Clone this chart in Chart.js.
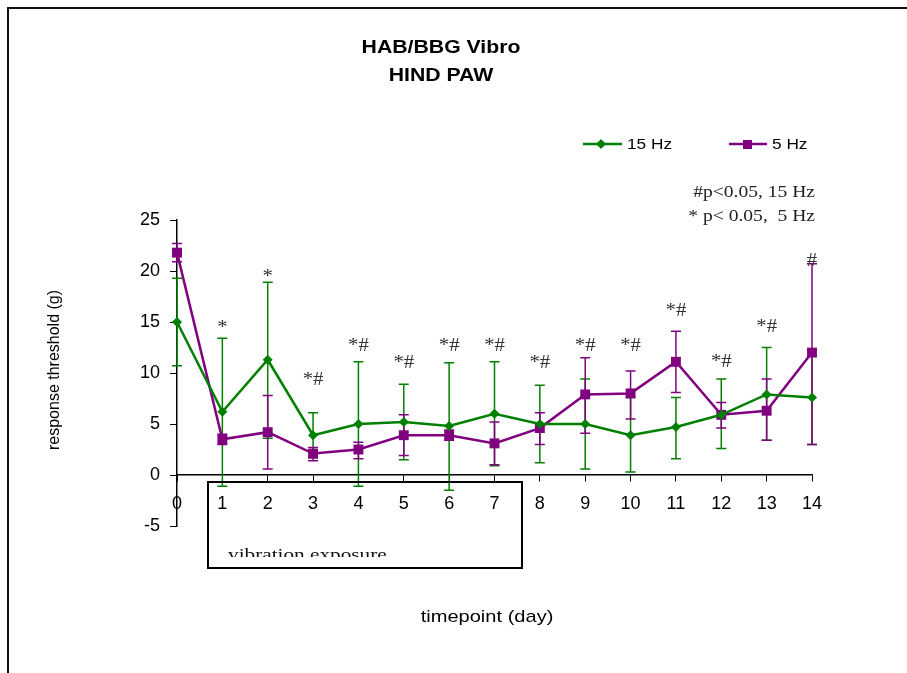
<!doctype html>
<html>
<head>
<script src="https://cdn.jsdelivr.net/npm/chart.js@4/dist/chart.umd.min.js"></script>
<style>
	body { margin: 0; background: #fff; }
	canvas { display: block; }
</style>
</head>
<body>
<canvas id="chart-area" width="907" height="673"></canvas>
<script>
	// timepoints (days)
	var days = ['0','1','2','3','4','5','6','7','8','9','10','11','12','13','14'];

	// 15 Hz group: mean, upper and lower end of error bar
	var hz15   = [15.0, 6.2, 11.3, 3.9, 5.0, 5.2, 4.8, 6.0, 5.0, 5.0, 3.9, 4.7, 5.9, 7.9, 7.6];
	var hz15Hi = [19.3, 13.4, 18.9, 6.1, 11.1, 8.9, 11.0, 11.1, 8.8, 9.4, 7.6, 7.6, 9.4, 12.5, 12.2];
	var hz15Lo = [10.7, -1.1, 3.6, 1.7, -1.1, 1.5, -1.5, 0.9, 1.2, 0.6, 0.3, 1.6, 2.6, 3.4, 3.0];

	// 5 Hz group
	var hz5   = [21.8, 3.5, 4.2, 2.1, 2.5, 3.9, 3.9, 3.1, 4.6, 7.9, 8.0, 11.1, 5.9, 6.3, 12.0];
	var hz5Hi = [22.7, 4.0, 7.8, 2.7, 3.2, 5.9, 4.4, 5.2, 6.1, 11.5, 10.2, 14.1, 7.1, 9.4, 20.7];
	var hz5Lo = [20.9, 3.0, 0.6, 1.4, 1.6, 1.9, 3.4, 1.0, 3.0, 4.1, 5.5, 8.1, 4.6, 3.4, 3.0];

	// significance marks and the level they are written at
	var sigText = ['', '*', '*', '*#', '*#', '*#', '*#', '*#', '*#', '*#', '*#', '*#', '*#', '*#', '#'];
	var sigY    = [null, 14.4, 19.4, 9.3, 12.6, 10.95, 12.6, 12.6, 10.95, 12.6, 12.6, 16.1, 11.05, 14.5, 21.0];

	var yTicks = [-5, 0, 5, 10, 15, 20, 25];

	var GREEN = '#008000';
	var PURPLE = '#800080';
	var SANS = '"Liberation Sans", Arial, sans-serif';
	var SERIF = '"Liberation Serif", "Times New Roman", serif';

	// the picture is a little stretched sideways, so text is widened
	function wideText(ctx, txt, x, y, font, align, color, sx) {
		ctx.save();
		ctx.font = font;
		ctx.fillStyle = color || '#000';
		ctx.textAlign = align || 'center';
		ctx.textBaseline = 'middle';
		ctx.translate(x, y);
		ctx.scale(sx || 1.2, 1);
		ctx.fillText(txt, 0, 0);
		ctx.restore();
	}

	var extras = {
		id: 'extras',
		beforeDatasetsDraw: function(chart) {
			var ctx = chart.ctx;
			var xs = chart.scales.x, ys = chart.scales.y;
			var sets = [[hz15Lo, hz15Hi, GREEN], [hz5Lo, hz5Hi, PURPLE]];
			ctx.save();
			ctx.lineWidth = 1.5;
			sets.forEach(function(s) {
				ctx.strokeStyle = s[2];
				for (var i = 0; i < days.length; i++) {
					var x = xs.getPixelForValue(i);
					var y1 = ys.getPixelForValue(s[0][i]);
					var y2 = ys.getPixelForValue(s[1][i]);
					ctx.beginPath();
					ctx.moveTo(x, y1); ctx.lineTo(x, y2);
					ctx.moveTo(x - 5, y1); ctx.lineTo(x + 5, y1);
					ctx.moveTo(x - 5, y2); ctx.lineTo(x + 5, y2);
					ctx.stroke();
				}
			});
			ctx.restore();
		},
		afterDraw: function(chart) {
			var ctx = chart.ctx;
			var xs = chart.scales.x, ys = chart.scales.y;

			// frame
			ctx.save();
			ctx.strokeStyle = '#111';
			ctx.lineWidth = 2;
			ctx.beginPath();
			ctx.moveTo(8, 673); ctx.lineTo(8, 8); ctx.lineTo(907, 8);
			ctx.stroke();
			ctx.restore();

			// titles
			wideText(ctx, 'HAB/BBG Vibro', 441, 48, 'bold 18px ' + SANS, 'center', '#000', 1.18);
			wideText(ctx, 'HIND PAW', 441, 76, 'bold 18px ' + SANS, 'center', '#000', 1.18);
			wideText(ctx, 'timepoint (day)', 487, 617, '17px ' + SANS, 'center', '#000', 1.18);

			ctx.save();
			ctx.font = '16px ' + SANS;
			ctx.fillStyle = '#000';
			ctx.textAlign = 'center';
			ctx.textBaseline = 'middle';
			ctx.translate(55, 370);
			ctx.rotate(-Math.PI / 2);
			ctx.fillText('response threshold (g)', 0, 0);
			ctx.restore();

			// legend
			ctx.save();
			ctx.lineWidth = 2.5;
			ctx.strokeStyle = GREEN;
			ctx.beginPath(); ctx.moveTo(583, 144); ctx.lineTo(622, 144); ctx.stroke();
			ctx.fillStyle = GREEN;
			ctx.beginPath();
			ctx.moveTo(601, 139); ctx.lineTo(606, 144); ctx.lineTo(601, 149); ctx.lineTo(596, 144);
			ctx.closePath(); ctx.fill();
			ctx.strokeStyle = PURPLE;
			ctx.beginPath(); ctx.moveTo(729, 144); ctx.lineTo(767, 144); ctx.stroke();
			ctx.fillStyle = PURPLE;
			ctx.fillRect(743, 140, 9, 9);
			ctx.restore();
			wideText(ctx, '15 Hz', 627, 145, '15px ' + SANS, 'left', '#000', 1.15);
			wideText(ctx, '5 Hz', 772, 145, '15px ' + SANS, 'left', '#000', 1.15);

			// p-value notes
			wideText(ctx, '#p<0.05, 15 Hz', 815, 193, '17px ' + SERIF, 'right', '#222', 1.15);
			wideText(ctx, '* p< 0.05,  5 Hz', 815, 217, '17px ' + SERIF, 'right', '#222', 1.15);

			// significance marks
			for (var i = 0; i < days.length; i++) {
				if (!sigText[i]) continue;
				wideText(ctx, sigText[i], xs.getPixelForValue(i), ys.getPixelForValue(sigY[i]),
					'18px ' + SERIF, 'center', '#333', 1.15);
			}

			// vibration exposure box
			ctx.save();
			ctx.strokeStyle = '#000';
			ctx.lineWidth = 2;
			ctx.strokeRect(208, 482, 314, 86);
			ctx.beginPath();
			ctx.rect(208, 482, 314, 75);
			ctx.clip();
			ctx.font = '17px ' + SERIF;
			ctx.fillStyle = '#111';
			ctx.textAlign = 'left';
			ctx.textBaseline = 'alphabetic';
			ctx.translate(228, 560);
			ctx.scale(1.25, 1);
			ctx.fillText('vibration exposure', 0, 0);
			ctx.restore();
		}
	};

	var config = {
		type: 'line',
		data: {
			labels: days,
			datasets: [{
				label: '15 Hz',
				data: hz15,
				borderColor: GREEN,
				backgroundColor: GREEN,
				borderWidth: 2.5,
				pointStyle: 'rectRot',
				pointRadius: 5,
				pointBorderWidth: 0,
				tension: 0
			}, {
				label: '5 Hz',
				data: hz5,
				borderColor: PURPLE,
				backgroundColor: PURPLE,
				borderWidth: 2.5,
				pointStyle: 'rect',
				pointRadius: 7,
				pointBorderWidth: 0,
				tension: 0
			}]
		},
		options: {
			responsive: false,
			animation: false,
			layout: { padding: { left: 0, right: 95, top: 220, bottom: 147 } },
			plugins: {
				legend: { display: false },
				title: { display: false },
				tooltip: { enabled: false }
			},
			scales: {
				x: {
					position: { y: 0 },
					offset: false,
					grid: { drawOnChartArea: false, drawTicks: true, tickLength: 6, color: '#000' },
					border: { display: true, color: '#000', width: 1.5 },
					ticks: { color: '#000', padding: 12, maxRotation: 0, autoSkip: false, font: { size: 18 } }
				},
				y: {
					min: -5,
					max: 25,
					afterFit: function(scale) { scale.width = 177; },
					afterBuildTicks: function(scale) {
						scale.ticks = yTicks.map(function(v) { return { value: v }; });
					},
					grid: { drawOnChartArea: false, drawTicks: true, tickLength: 7, color: '#000' },
					border: { display: true, color: '#000', width: 1.5 },
					ticks: { color: '#000', padding: 10, font: { size: 18 } }
				}
			}
		},
		plugins: [extras]
	};

	Chart.defaults.font.family = SANS;

	window.onload = function() {
		var ctx = document.getElementById('chart-area').getContext('2d');
		window.myLine = new Chart(ctx, config);
	};
</script>
</body>
</html>
